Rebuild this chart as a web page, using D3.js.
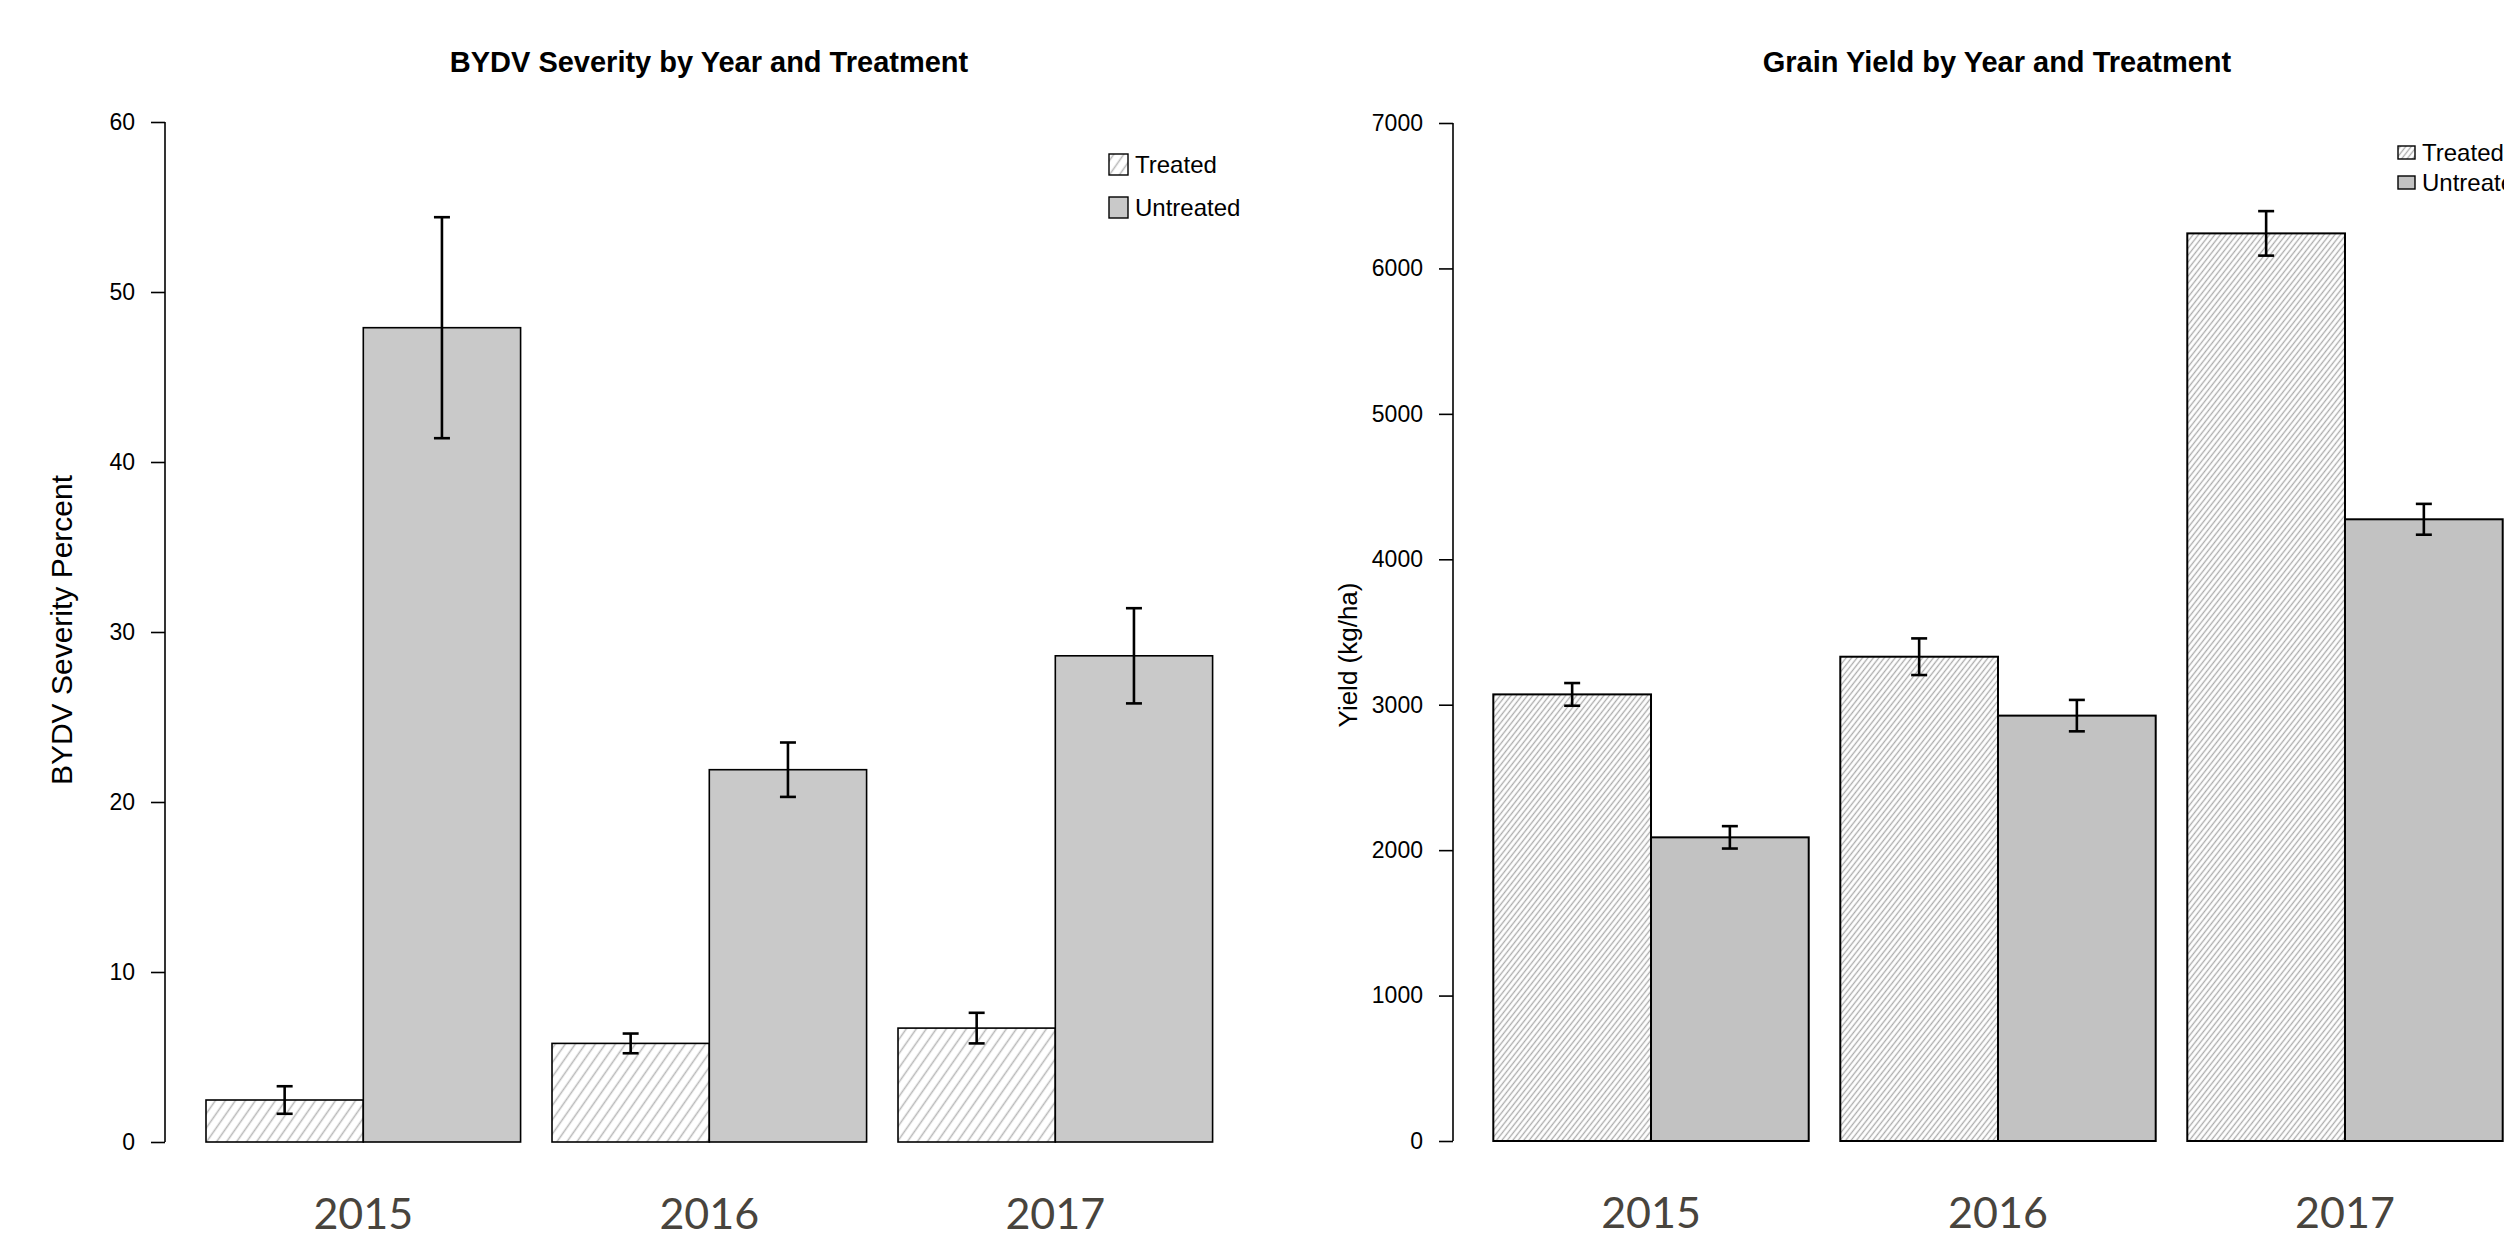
<!DOCTYPE html>
<html>
  <head>
    <meta charset="utf-8">
    <title>BYDV Severity and Grain Yield</title>
    <script src="https://d3js.org/d3.v7.min.js"></script>
    <style>
      body { margin: 0; background: #fff; }
      text { font-family: "Liberation Sans", Arial, sans-serif; }
    </style>
  </head>
  <body>
    <div id="chart"></div>
    <script>
      // Data
      var years = ["2015", "2016", "2017"];
      var treatments = ["Treated", "Untreated"];

      var severityTreated = [2.47, 5.8, 6.7];
      var severityUntreated = [47.9, 21.9, 28.6];
      var severityTreatedSE = [0.81, 0.58, 0.9];
      var severityUntreatedSE = [6.5, 1.6, 2.8];

      var yieldTreated = [3071, 3330, 6241];
      var yieldUntreated = [2088, 2925, 4275];
      var yieldTreatedSE = [78, 126, 153];
      var yieldUntreatedSE = [77, 108, 106];

      var severityTicks = [0, 10, 20, 30, 40, 50, 60];
      var yieldTicks = [0, 1000, 2000, 3000, 4000, 5000, 6000, 7000];

      var W = 2504, H = 1239;

      var svg = d3.select("#chart")
        .append("svg")
          .attr("width", W)
          .attr("height", H);

      svg.append("rect").attr("width", W).attr("height", H).attr("fill", "#fff");

      var defs = svg.append("defs");

      // diagonal hatch for the treated bars
      function hatch(id, spacing, angle, width, colour) {
        var p = defs.append("pattern")
          .attr("id", id)
          .attr("patternUnits", "userSpaceOnUse")
          .attr("width", spacing)
          .attr("height", 20)
          .attr("patternTransform", "rotate(" + angle + ")");
        p.append("rect").attr("width", spacing).attr("height", 20).attr("fill", "#fff");
        p.append("line")
          .attr("x1", spacing / 2).attr("x2", spacing / 2)
          .attr("y1", -1).attr("y2", 21)
          .attr("stroke", colour)
          .attr("stroke-width", width);
      }
      hatch("hatchL", 8.2, 35, 1.5, "#b9b9b9");
      hatch("hatchR", 4.3, 38, 1.3, "#acacac");

      function drawPanel(o) {
        var g = svg.append("g");

        var y = d3.scaleLinear().domain(o.domain).range([o.y0, o.y1]);

        var x0 = d3.scaleBand()
          .domain(years)
          .range(o.xRange)
          .paddingInner(o.gap)
          .paddingOuter(0);

        var x1 = d3.scaleBand()
          .domain(treatments)
          .range([0, x0.bandwidth()]);

        var rows = years.map(function(yr, i) {
          return [
            {year: yr, t: "Treated", v: o.treated[i], se: o.treatedSE[i]},
            {year: yr, t: "Untreated", v: o.untreated[i], se: o.untreatedSE[i]}
          ];
        });
        var flat = d3.merge(rows);

        // y axis
        var axis = g.append("g")
          .attr("transform", "translate(" + o.axisX + ",0)")
          .call(d3.axisLeft(y).tickValues(o.ticks).tickSize(14).tickPadding(16).tickFormat(d3.format("d")));
        axis.select(".domain")
          .attr("d", "M0," + y(o.ticks[0]) + "V" + y(o.ticks[o.ticks.length - 1]))
          .attr("stroke-width", 1.6);
        axis.selectAll(".tick line").attr("stroke-width", 1.6);
        axis.selectAll(".tick text")
          .attr("font-size", 23)
          .attr("font-family", "Liberation Sans, Arial, sans-serif")
          .attr("fill", "#000");

        // bars
        g.selectAll("rect.bar")
          .data(flat)
          .enter()
          .append("rect")
            .attr("class", "bar")
            .attr("x", function(d) { return x0(d.year) + x1(d.t); })
            .attr("y", function(d) { return y(d.v); })
            .attr("width", x1.bandwidth())
            .attr("height", function(d) { return y(0) - y(d.v); })
            .attr("fill", function(d) { return d.t === "Treated" ? "url(#" + o.hatch + ")" : o.grey; })
            .attr("stroke", "#000")
            .attr("stroke-width", o.barStroke);

        // error bars
        var eb = g.selectAll("g.err")
          .data(flat)
          .enter()
          .append("g")
            .attr("class", "err")
            .attr("stroke", "#000")
            .attr("stroke-width", 2.6);
        var cx = function(d) { return x0(d.year) + x1(d.t) + x1.bandwidth() / 2; };
        eb.append("line")
          .attr("x1", cx).attr("x2", cx)
          .attr("y1", function(d) { return y(d.v - d.se); })
          .attr("y2", function(d) { return y(d.v + d.se); });
        eb.append("line")
          .attr("x1", function(d) { return cx(d) - 8; })
          .attr("x2", function(d) { return cx(d) + 8; })
          .attr("y1", function(d) { return y(d.v + d.se); })
          .attr("y2", function(d) { return y(d.v + d.se); });
        eb.append("line")
          .attr("x1", function(d) { return cx(d) - 8; })
          .attr("x2", function(d) { return cx(d) + 8; })
          .attr("y1", function(d) { return y(d.v - d.se); })
          .attr("y2", function(d) { return y(d.v - d.se); });

        // year labels
        g.selectAll("text.year")
          .data(years)
          .enter()
          .append("text")
            .attr("class", "year")
            .attr("x", function(d) { return x0(d) + x0.bandwidth() / 2; })
            .attr("y", o.yearY)
            .attr("text-anchor", "middle")
            .style("font-family", "Lato, 'Open Sans', sans-serif")
            .attr("font-size", 43)
            .attr("fill", "#48443d")
            .text(function(d) { return d; });

        // title
        g.append("text")
          .attr("x", o.titleX)
          .attr("y", 72)
          .attr("text-anchor", "middle")
          .attr("font-size", 29)
          .attr("font-weight", "bold")
          .text(o.title);

        // y label
        g.append("text")
          .attr("transform", "translate(" + o.ylabX + "," + o.ylabY + ") rotate(-90)")
          .attr("text-anchor", "middle")
          .attr("font-size", o.ylabSize)
          .text(o.ylab);

        // legend
        var lg = g.selectAll("g.leg")
          .data(treatments)
          .enter()
          .append("g")
            .attr("class", "leg")
            .attr("transform", function(d, i) {
              return "translate(" + o.legX + "," + (o.legY + i * o.legStep) + ")";
            });
        lg.append("rect")
          .attr("width", o.legBox[0])
          .attr("height", o.legBox[1])
          .attr("fill", function(d) { return d === "Treated" ? "url(#" + o.hatch + ")" : o.grey; })
          .attr("stroke", "#000")
          .attr("stroke-width", 1.4);
        lg.append("text")
          .attr("x", o.legBox[0] + 7)
          .attr("y", o.legBox[1] / 2)
          .attr("dy", "0.36em")
          .attr("font-size", o.legSize)
          .text(function(d) { return d; });
      }

      drawPanel({
        domain: [0, 60], y0: 1142, y1: 122, ticks: severityTicks, axisX: 165,
        xRange: [206, 1212.6], gap: 0.0908,
        treated: severityTreated, untreated: severityUntreated,
        treatedSE: severityTreatedSE, untreatedSE: severityUntreatedSE,
        hatch: "hatchL", grey: "#c9c9c9", barStroke: 1.6,
        yearY: 1229,
        title: "BYDV Severity by Year and Treatment", titleX: 709,
        ylab: "BYDV Severity Percent", ylabX: 72, ylabY: 630, ylabSize: 30,
        legX: 1109, legY: 154, legStep: 43, legBox: [19, 21], legSize: 24
      });

      drawPanel({
        domain: [0, 7000], y0: 1141, y1: 123, ticks: yieldTicks, axisX: 1453,
        xRange: [1493.3, 2502.7], gap: 0.091,
        treated: yieldTreated, untreated: yieldUntreated,
        treatedSE: yieldTreatedSE, untreatedSE: yieldUntreatedSE,
        hatch: "hatchR", grey: "#c2c2c2", barStroke: 2,
        yearY: 1228,
        title: "Grain Yield by Year and Treatment", titleX: 1997,
        ylab: "Yield (kg/ha)", ylabX: 1357, ylabY: 655, ylabSize: 26,
        legX: 2398, legY: 146, legStep: 30, legBox: [17, 13], legSize: 24
      });
    </script>
  </body>
</html>
